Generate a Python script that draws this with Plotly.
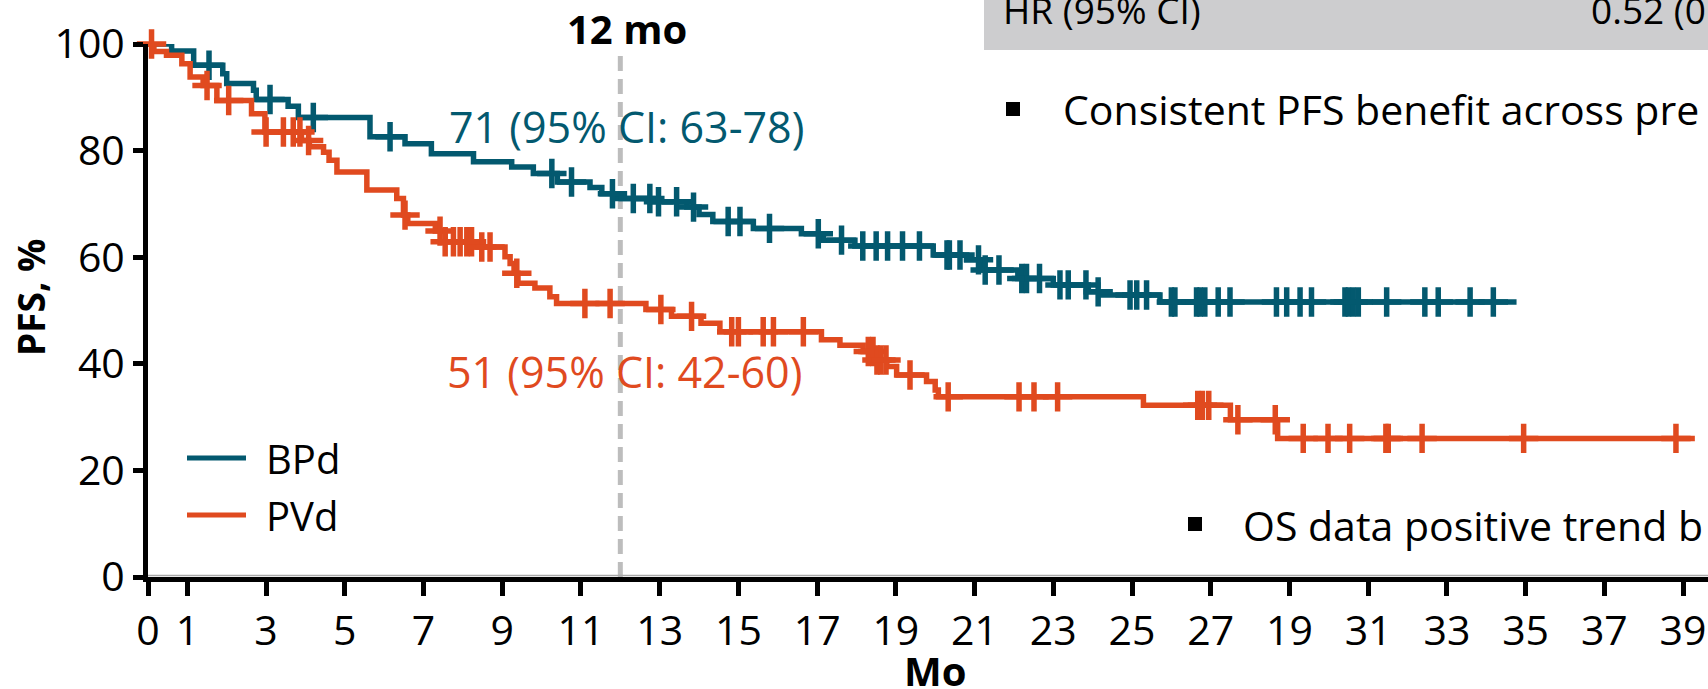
import numpy as np
import plotly.graph_objects as go

# ---- Kaplan-Meier data (months, PFS %) ----
bpd_times = [0, 0.6, 1.16, 1.9, 2.0, 2.68, 2.75, 3.56, 3.82, 5.64, 6.53, 7.2, 8.27,
             9.24, 9.79, 10.4, 11.23, 11.53, 11.9, 12.83, 13.69, 14.0, 14.35, 15.38,
             16.6, 17.16, 17.96, 19.95, 20.8, 21.15, 22.1, 23.0, 23.89, 24.2, 25.71]
bpd_surv = [100, 98.7, 96.0, 94.4, 92.6, 91.3, 89.6, 88.3, 86.2, 82.6, 81.3, 79.4, 77.9,
            76.9, 75.7, 74.1, 73.1, 71.9, 71.0, 70.4, 69.4, 68.0, 66.7, 65.4,
            64.4, 63.2, 62.1, 60.4, 59.5, 57.6, 56.0, 54.8, 53.5, 52.9, 51.6]
bpd_end = 34.77
bpd_censored = [1.55, 3.1, 4.2, 6.15, 10.26, 10.76, 11.8, 12.33, 12.75, 12.97, 13.43, 13.86,
                14.74, 15.04, 15.79, 17.03, 17.62, 18.16, 18.5, 18.79, 19.17, 19.6, 20.3,
                20.36, 20.63, 21.1, 21.27, 21.62, 22.2, 22.32, 22.65, 23.17, 23.38, 23.83,
                24.14, 24.95, 25.12, 25.37, 26.0, 26.09, 26.64, 26.73, 26.85, 27.19, 27.49,
                28.67, 28.93, 29.27, 29.56, 30.41, 30.5, 30.62, 30.75, 31.47, 32.44, 32.78,
                33.59, 34.18]

pvd_times = [0, 0.15, 0.47, 0.86, 1.07, 1.4, 1.75, 2.63, 2.97, 3.9, 4.1, 4.46, 4.6, 4.8,
             5.56, 6.32, 6.49, 6.6, 7.3, 7.55, 8.35, 9.07, 9.2, 9.3, 9.4, 9.83, 10.21,
             10.38, 12.65, 13.3, 14.05, 14.53, 17.11, 17.58, 18.17, 18.5, 18.77, 19.02,
             19.78, 20.0, 20.08, 25.29, 27.5, 28.7]
pvd_surv = [100, 98.6, 97.9, 96.3, 93.8, 92.2, 89.4, 86.9, 83.5, 81.9, 80.7, 79.7, 78.2, 76.0,
            72.6, 71.0, 67.9, 66.3, 64.9, 62.9, 61.9, 60.1, 58.8, 57.0, 55.1, 54.2, 52.6,
            51.3, 50.2, 48.9, 47.6, 46.0, 44.5, 43.5, 42.3, 40.7, 39.5, 37.9,
            36.7, 35.1, 33.8, 32.2, 29.5, 26.0]
pvd_end = 39.3
pvd_censored = [0.09, 1.5, 2.05, 3.0, 3.44, 3.69, 3.86, 4.08, 6.53, 7.42, 7.55, 7.76, 7.93,
                8.1, 8.22, 8.48, 8.69, 9.37, 11.1, 11.74, 13.03, 13.81, 14.83, 15.0, 15.63,
                15.89, 16.65, 18.3, 18.42, 18.52, 18.62, 18.75, 19.36, 20.33, 22.13, 22.51,
                23.11, 26.67, 26.79, 26.95, 27.69, 28.64, 29.35, 29.98, 30.53, 31.45, 31.51,
                32.37, 34.95, 38.82]

x_tickvals = [0, 1, 3, 5, 7, 9, 11, 13, 15, 17, 19, 21, 23, 25, 27, 29, 31, 33, 35, 37, 39]
x_ticktext = ["0", "1", "3", "5", "7", "9", "11", "13", "15", "17", "19", "21", "23", "25",
              "27", "19", "31", "33", "35", "37", "39"]
y_tickvals = [0, 20, 40, 60, 80, 100]

landmark_month = 12
bpd_label = "71 (95% CI: 63-78)"
pvd_label = "51 (95% CI: 42-60)"

TEAL = "#03596F"
ORANGE = "#E04A1F"
FONT = "Open Sans"

# ---- page geometry (pixels) ----
W, H = 1708, 689
L, R, T, B = 148, 0, 44, 112
PW, PH = W - L - R, H - T - B
X_MAX = 39.634


def px(xp):
    return (xp - L) / PW


def py(yp):
    return (H - B - yp) / PH


def step_level(times, surv, t):
    idx = np.searchsorted(np.asarray(times), np.asarray(t), side="right") - 1
    return np.asarray(surv)[idx]


fig = go.Figure()

for times, surv, end, cens, color, name in [
    (bpd_times, bpd_surv, bpd_end, bpd_censored, TEAL, "BPd"),
    (pvd_times, pvd_surv, pvd_end, pvd_censored, ORANGE, "PVd"),
]:
    fig.add_trace(go.Scatter(
        x=list(times) + [end], y=list(surv) + [surv[-1]],
        mode="lines", line=dict(color=color, width=5.5, shape="hv"),
        name=name, showlegend=False, cliponaxis=False, hoverinfo="skip"))
    fig.add_trace(go.Scatter(
        x=cens, y=step_level(times, surv, cens),
        mode="markers",
        marker=dict(symbol="cross-thin", size=21, line=dict(color=color, width=5.5)),
        showlegend=False, cliponaxis=False, hoverinfo="skip"))

shapes = [
    # thin grey baseline resting on the axis
    dict(type="line", xref="x", yref="y", x0=0, x1=X_MAX, y0=0.3, y1=0.3,
         line=dict(color="#a8a8a8", width=1.5), layer="below"),
    # 12-month landmark
    dict(type="line", xref="x", yref="paper", x0=landmark_month, x1=landmark_month,
         y0=0, y1=py(55), line=dict(color="#bdbdbd", width=5, dash="15px,8px"),
         layer="below"),
    # legend swatches
    dict(type="line", xref="paper", yref="paper", x0=px(187), x1=px(246),
         y0=py(458), y1=py(458), line=dict(color=TEAL, width=5)),
    dict(type="line", xref="paper", yref="paper", x0=px(187), x1=px(246),
         y0=py(515), y1=py(515), line=dict(color=ORANGE, width=5)),
    # grey table band, top right
    dict(type="rect", xref="paper", yref="paper", x0=px(984), x1=px(W + 5),
         y0=py(50), y1=py(-5), fillcolor="#cdcdcf", line=dict(width=0), layer="below"),
    # bullets
    dict(type="rect", xref="paper", yref="paper", x0=px(1006), x1=px(1020),
         y0=py(116), y1=py(102), fillcolor="black", line=dict(width=0)),
    dict(type="rect", xref="paper", yref="paper", x0=px(1188), x1=px(1202),
         y0=py(531), y1=py(517), fillcolor="black", line=dict(width=0)),
]


def note(text, x, y, size, color="black", bold=False, xanchor="left", angle=0):
    return dict(text=f"<b>{text}</b>" if bold else text, xref="paper", yref="paper",
                x=px(x), y=py(y), xanchor=xanchor, yanchor="middle", showarrow=False,
                textangle=angle, font=dict(family=FONT, size=size, color=color))


annotations = [
    note("12 mo", 627, 28, 40, bold=True, xanchor="center"),
    note(bpd_label, 447, 126, 43, color=TEAL),
    note(pvd_label, 445, 371, 43, color=ORANGE),
    note("BPd", 264, 458, 40),
    note("PVd", 264, 515, 40),
    note("PFS, %", 30, 298, 37, bold=True, xanchor="center", angle=-90),
    note("Mo", 935, 670, 40, bold=True, xanchor="center"),
    note("HR (95% CI)", 1001, 10, 37),
    note("0.52 (0", 1589, 10, 37),
    note("Consistent PFS benefit across pre", 1061, 109, 41),
    note("OS data positive trend b", 1241, 525, 41),
]

axis_common = dict(showline=True, linecolor="black", linewidth=5, ticks="outside",
                   tickcolor="black", tickwidth=5, showgrid=False, zeroline=False,
                   tickfont=dict(family=FONT, size=41, color="black"))

fig.update_layout(
    width=W, height=H,
    margin=dict(l=L, r=R, t=T, b=B),
    paper_bgcolor="white", plot_bgcolor="white",
    showlegend=False,
    xaxis=dict(range=[0, X_MAX], tickmode="array", tickvals=x_tickvals,
               ticktext=x_ticktext, ticklen=14, **axis_common),
    yaxis=dict(range=[0, 100], tickmode="array", tickvals=y_tickvals,
               ticklen=10, **axis_common),
    shapes=shapes,
    annotations=annotations,
)

fig.write_html("out.html", config={"displayModeBar": False})
